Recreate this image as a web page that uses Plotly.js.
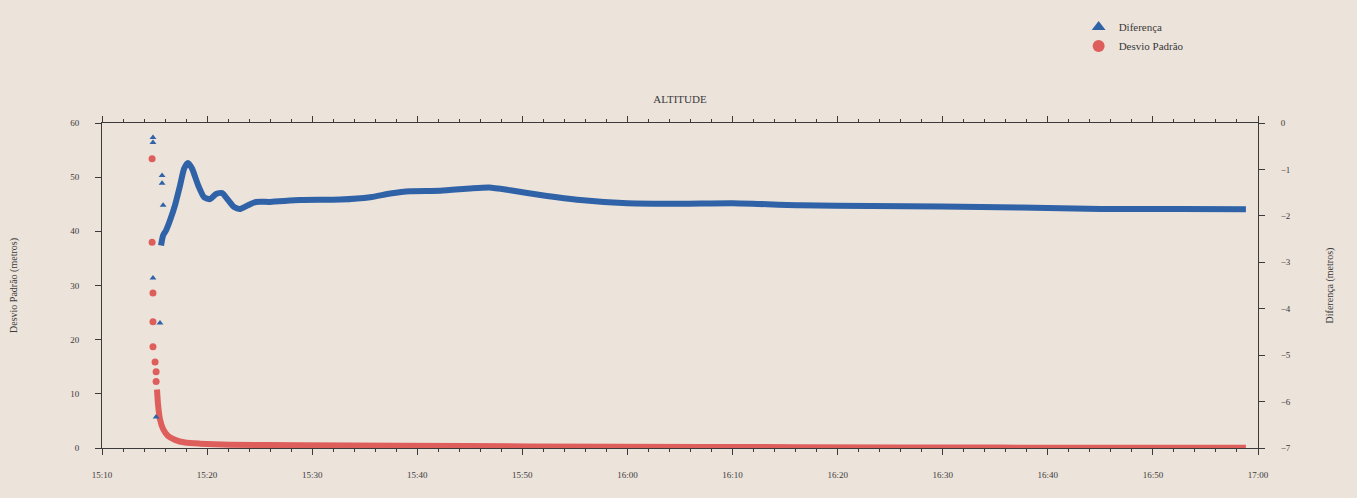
<!DOCTYPE html>
<html>
<head>
<meta charset="utf-8">
<script src="https://cdn.plot.ly/plotly-3.0.1.min.js"></script>
<style>
  html, body { margin: 0; padding: 0; background: #ece3da; }
  #chart { width: 1357px; height: 498px; }
</style>
</head>
<body>
<div id="chart"></div>
<script>
// ---- Data ----
// Diferença (metros), right axis: isolated early points
const difSparseTimes = ['2000-01-01 15:14:51','2000-01-01 15:14:51','2000-01-01 15:14:51','2000-01-01 15:15:09','2000-01-01 15:15:31','2000-01-01 15:15:43','2000-01-01 15:15:43','2000-01-01 15:15:49'];
const difSparseValues = [-0.31, -0.42, -3.34, -6.33, -4.31, -1.13, -1.30, -1.77];

// Diferença (metros): continuous part
const difTimes = ['2000-01-01 15:15:37','2000-01-01 15:15:49','2000-01-01 15:16:06','2000-01-01 15:16:29','2000-01-01 15:16:57','2000-01-01 15:17:26','2000-01-01 15:17:49','2000-01-01 15:18:11','2000-01-01 15:18:34','2000-01-01 15:19:09','2000-01-01 15:19:43','2000-01-01 15:20:17','2000-01-01 15:20:51','2000-01-01 15:21:26','2000-01-01 15:22:00','2000-01-01 15:22:34','2000-01-01 15:23:09','2000-01-01 15:23:54','2000-01-01 15:24:40','2000-01-01 15:26:00','2000-01-01 15:28:51','2000-01-01 15:32:40','2000-01-01 15:35:31','2000-01-01 15:37:26','2000-01-01 15:39:20','2000-01-01 15:42:11','2000-01-01 15:45:03','2000-01-01 15:46:51','2000-01-01 15:48:51','2000-01-01 15:51:43','2000-01-01 15:55:31','2000-01-01 16:00:00','2000-01-01 16:05:03','2000-01-01 16:10:00','2000-01-01 16:16:29','2000-01-01 16:23:09','2000-01-01 16:29:49','2000-01-01 16:37:26','2000-01-01 16:45:03','2000-01-01 16:52:40','2000-01-01 16:58:51'];
const difValues = [-2.64, -2.42, -2.31, -2.09, -1.77, -1.34, -0.98, -0.86, -0.98, -1.34, -1.60, -1.64, -1.53, -1.51, -1.66, -1.81, -1.85, -1.77, -1.70, -1.70, -1.66, -1.65, -1.60, -1.52, -1.47, -1.46, -1.41, -1.39, -1.45, -1.55, -1.66, -1.73, -1.74, -1.73, -1.77, -1.79, -1.80, -1.82, -1.85, -1.85, -1.86];

// Desvio Padrão (metros), left axis: isolated early points
const dpSparseTimes = ['2000-01-01 15:14:46','2000-01-01 15:14:46','2000-01-01 15:14:51','2000-01-01 15:14:51','2000-01-01 15:14:51','2000-01-01 15:15:03','2000-01-01 15:15:09','2000-01-01 15:15:09'];
const dpSparseValues = [53.4, 38.0, 28.6, 23.3, 18.7, 15.9, 14.1, 12.3];

// Desvio Padrão (metros): continuous part
const dpTimes = ['2000-01-01 15:15:14','2000-01-01 15:15:20','2000-01-01 15:15:31','2000-01-01 15:15:49','2000-01-01 15:16:17','2000-01-01 15:16:57','2000-01-01 15:17:54','2000-01-01 15:19:20','2000-01-01 15:22:11','2000-01-01 15:28:51','2000-01-01 15:38:23','2000-01-01 15:50:46','2000-01-01 16:06:57','2000-01-01 16:26:00','2000-01-01 16:45:03','2000-01-01 16:58:51'];
const dpValues = [10.8, 8.0, 5.3, 3.5, 2.2, 1.5, 1.0, 0.8, 0.6, 0.5, 0.4, 0.3, 0.2, 0.1, 0.05, 0.05];

const xTickVals = ['2000-01-01 15:10','2000-01-01 15:20','2000-01-01 15:30','2000-01-01 15:40','2000-01-01 15:50','2000-01-01 16:00','2000-01-01 16:10','2000-01-01 16:20','2000-01-01 16:30','2000-01-01 16:40','2000-01-01 16:50','2000-01-01 17:00'];
const xTickText = ['15:10','15:20','15:30','15:40','15:50','16:00','16:10','16:20','16:30','16:40','16:50','17:00'];

// ---- Styles ----
const BLUE = '#2f62a6';
const RED = '#de5e5c';
const BG = '#ece3da';
const INK = '#3a3a3a';
const FONT = 'Liberation Serif, DejaVu Serif, serif';

const traces = [
  { x: difSparseTimes, y: difSparseValues, yaxis: 'y2', name: 'Diferença', type: 'scatter', mode: 'markers',
    marker: { symbol: 'triangle-up', size: 6, color: BLUE } },
  { x: dpSparseTimes, y: dpSparseValues, yaxis: 'y', name: 'Desvio Padrão', type: 'scatter', mode: 'markers',
    marker: { symbol: 'circle', size: 7, color: RED } },
  { x: difTimes, y: difValues, yaxis: 'y2', name: 'Diferença', showlegend: false, type: 'scatter', mode: 'lines',
    line: { color: BLUE, width: 6, shape: 'spline', smoothing: 0.6 } },
  { x: dpTimes, y: dpValues, yaxis: 'y', name: 'Desvio Padrão', showlegend: false, type: 'scatter', mode: 'lines',
    line: { color: RED, width: 6, shape: 'spline', smoothing: 0.6 } }
];

const layout = {
  width: 1357, height: 498,
  paper_bgcolor: BG, plot_bgcolor: BG,
  margin: { l: 102, r: 99, t: 120, b: 50 },
  font: { family: FONT, color: INK, size: 10 },
  title: { text: 'ALTITUDE', x: 0.5, xref: 'paper', xanchor: 'center', y: 0.8, yanchor: 'middle',
           font: { family: FONT, size: 11, color: INK } },
  showlegend: true,
  legend: { x: 0.94, xanchor: 'right', y: 1.34, yanchor: 'top', bgcolor: 'rgba(0,0,0,0)',
            font: { family: FONT, size: 11, color: INK }, tracegroupgap: 0, itemsizing: 'constant' },
  xaxis: {
    type: 'date', range: ['2000-01-01 15:10', '2000-01-01 17:00'],
    tickvals: xTickVals, ticktext: xTickText,
    ticks: 'outside', ticklen: 6, tickcolor: INK, tickwidth: 1,
    minor: { dtick: 120000, ticks: 'outside', ticklen: 3, tickcolor: INK, showgrid: false },
    showline: true, linecolor: INK, linewidth: 1, mirror: 'ticks',
    showgrid: false, zeroline: false, ticklabelstandoff: 12,
    tickfont: { family: FONT, size: 9, color: INK }
  },
  yaxis: {
    range: [0, 60], tickvals: [0, 10, 20, 30, 40, 50, 60],
    ticks: 'outside', ticklen: 6, tickcolor: INK,
    showline: true, linecolor: INK, linewidth: 1,
    showgrid: false, zeroline: false, ticklabelstandoff: 14,
    tickfont: { family: FONT, size: 9, color: INK },
    title: { text: 'Desvio Padrão (metros)', standoff: 50, font: { family: FONT, size: 10, color: INK } }
  },
  yaxis2: {
    overlaying: 'y', side: 'right',
    range: [-7, 0], tickvals: [-7, -6, -5, -4, -3, -2, -1, 0],
    ticks: 'outside', ticklen: 6, tickcolor: INK,
    showline: true, linecolor: INK, linewidth: 1,
    showgrid: false, zeroline: false, ticklabelstandoff: 14,
    tickfont: { family: FONT, size: 9, color: INK },
    title: { text: 'Diferença (metros)', standoff: 36, font: { family: FONT, size: 10, color: INK } }
  }
};

Plotly.newPlot('chart', traces, layout, { displayModeBar: false, staticPlot: true });
</script>
</body>
</html>
